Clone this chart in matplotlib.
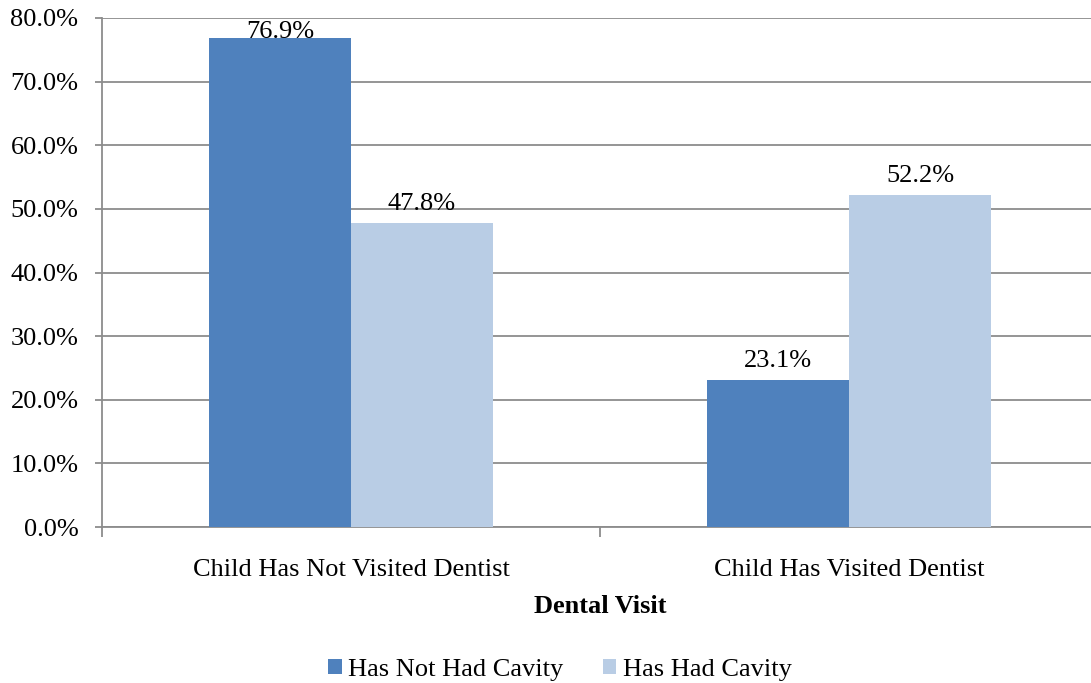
import matplotlib.pyplot as plt
import numpy as np
from matplotlib.ticker import FuncFormatter

plt.rcParams["font.family"] = ["Liberation Serif", "DejaVu Serif"]

categories = ["Child Has Not Visited Dentist", "Child Has Visited Dentist"]
series_names = ["Has Not Had Cavity", "Has Had Cavity"]
not_had_cavity = [76.9, 23.1]
had_cavity = [47.8, 52.2]
colors = ["#4F81BD", "#B9CDE5"]

fig = plt.figure(figsize=(10.91, 6.83), dpi=100)
# plot area runs a little past the right edge of the image, as in the reference
ax = fig.add_axes([102 / 1091, 1 - 527 / 683, 996 / 1091, (527 - 18) / 683])

x = np.arange(len(categories))
width = 0.285
grid_color = "#8C8C8C"
fs = 19

for i, (vals, name) in enumerate(zip([not_had_cavity, had_cavity], series_names)):
    bars = ax.bar(x + (i - 0.5) * width, vals, width, color=colors[i], label=name, zorder=3)
    for b, v in zip(bars, vals):
        # keep labels inside the plot area like the spreadsheet does
        ax.text(b.get_x() + b.get_width() / 2, min(v + 1.2, 76.0), f"{v:.1f}%",
                ha="center", va="bottom", fontsize=fs, zorder=4)

ax.set_ylim(0, 80)
ax.set_xlim(-0.5, 1.5)
ax.set_yticks(np.arange(0, 81, 10))
ax.yaxis.set_major_formatter(FuncFormatter(lambda v, p: f"{v:.1f}%"))
ax.yaxis.grid(True, color=grid_color, linewidth=1.3, zorder=0)

ax.set_xticks(x)
ax.set_xticklabels(categories)
ax.set_xticks([-0.5, 0.5, 1.5], minor=True)
ax.tick_params(axis="x", which="major", length=0, pad=23, labelsize=fs)
ax.tick_params(axis="x", which="minor", length=7, color=grid_color, width=1.3)
ax.tick_params(axis="y", length=5, color=grid_color, width=1.3, labelsize=fs, pad=12)

for side in ["top", "right"]:
    ax.spines[side].set_visible(False)
for side in ["left", "bottom"]:
    ax.spines[side].set_color(grid_color)
    ax.spines[side].set_linewidth(1.3)

ax.set_xlabel("Dental Visit", fontsize=fs, fontweight="bold", labelpad=10)

fig.legend(loc="center", bbox_to_anchor=(560 / 1091, 1 - 670 / 683), ncol=2, frameon=False,
           fontsize=fs, handlelength=0.5, handleheight=0.5, handletextpad=0.25,
           columnspacing=1.5)

fig.savefig("out.png", dpi=100)
